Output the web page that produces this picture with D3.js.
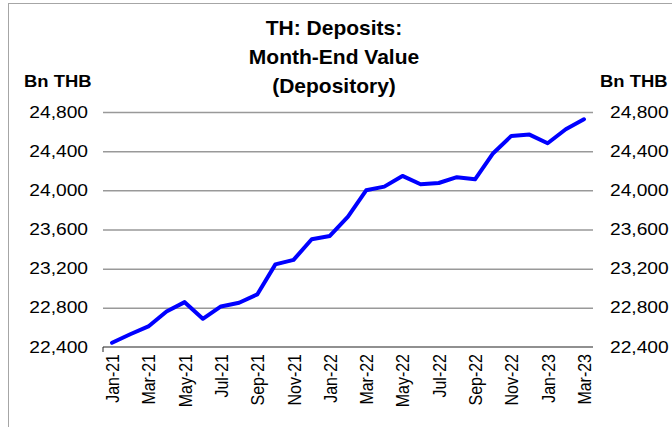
<!DOCTYPE html>
<html>
<head>
<meta charset="utf-8">
<script src="https://cdn.jsdelivr.net/npm/d3@7"></script>
<style>
  body { margin: 0; background: #fff; }
  svg { display: block; font-family: "Liberation Sans", Arial, sans-serif; }
</style>
</head>
<body>
<svg id="chart"></svg>
<script>
const months = ["Jan-21", "Feb-21", "Mar-21", "Apr-21", "May-21", "Jun-21", "Jul-21", "Aug-21", "Sep-21",
  "Oct-21", "Nov-21", "Dec-21", "Jan-22", "Feb-22", "Mar-22", "Apr-22", "May-22", "Jun-22", "Jul-22",
  "Aug-22", "Sep-22", "Oct-22", "Nov-22", "Dec-22", "Jan-23", "Feb-23", "Mar-23"];

const deposits = [22443, 22530, 22610, 22763, 22858, 22688, 22814, 22852, 22937,
  23244, 23290, 23500, 23534, 23731, 24000, 24038, 24147, 24062, 24075,
  24134, 24113, 24379, 24556, 24569, 24481, 24624, 24726];

const xTickLabels = ["Jan-21", "Mar-21", "May-21", "Jul-21", "Sep-21", "Nov-21", "Jan-22",
  "Mar-22", "May-22", "Jul-22", "Sep-22", "Nov-22", "Jan-23", "Mar-23"];
const yTicks = [22400, 22800, 23200, 23600, 24000, 24400, 24800];

const titleLines = ["TH: Deposits:", "Month-End Value", "(Depository)"];
const unitLabel = "Bn THB";

const width = 672;
const height = 427;
const margin = { top: 112, right: 79, bottom: 80, left: 103 };
const plotW = width - margin.left - margin.right;
const plotH = height - margin.top - margin.bottom;

// the source picture has its small labels a bit wider than plain Arial
function widen(sel, k) {
  sel.each(function () {
    d3.select(this)
      .attr("textLength", this.getComputedTextLength() * k)
      .attr("lengthAdjust", "spacingAndGlyphs");
  });
}

const svg = d3.select("#chart").attr("width", width).attr("height", height);

// outer frame (only top & left edges visible in the picture)
svg.append("rect")
  .attr("x", 8.5).attr("y", 3.5)
  .attr("width", 700).attr("height", 450)
  .attr("fill", "none")
  .attr("stroke", "#a6a6a6")
  .attr("stroke-width", 1);

const g = svg.append("g").attr("transform", `translate(${margin.left},${margin.top})`);

const x = d3.scalePoint().domain(months).range([0, plotW]).padding(0.5);
const y = d3.scaleLinear().domain([22400, 24800]).range([plotH, 0]);

// gridlines
g.append("g")
  .call(d3.axisLeft(y).tickValues(yTicks.slice(1)).tickSize(-plotW).tickFormat(""))
  .call(s => s.select(".domain").remove())
  .selectAll("line")
  .attr("stroke", "#999")
  .attr("stroke-width", 1.5);

// left axis labels
g.append("g")
  .call(d3.axisLeft(y).tickValues(yTicks).tickSize(0).tickPadding(15).tickFormat(d3.format(",")))
  .call(s => s.select(".domain").remove())
  .selectAll("text")
  .style("font-size", "16px")
  .attr("fill", "#000")
  .call(widen, 1.2);

// right axis labels
g.append("g")
  .attr("transform", `translate(${plotW},0)`)
  .call(d3.axisRight(y).tickValues(yTicks).tickSize(0).tickPadding(17).tickFormat(d3.format(",")))
  .call(s => s.select(".domain").remove())
  .selectAll("text")
  .style("font-size", "16px")
  .attr("fill", "#000")
  .call(widen, 1.2);

// bottom axis
const xAxis = g.append("g")
  .attr("transform", `translate(0,${plotH})`)
  .call(d3.axisBottom(x).tickValues(xTickLabels).tickSize(0).tickSizeOuter(0));
xAxis.select(".domain").attr("d", `M0,0H${plotW}`).attr("stroke", "#222").attr("stroke-width", 1.2);
xAxis.selectAll("text")
  .style("font-size", "16px")
  .attr("fill", "#000")
  .attr("text-anchor", "end")
  .attr("transform", "rotate(-90) scale(1,1.12)")
  .attr("x", -7)
  .attr("y", 0)
  .attr("dy", "0.36em");
xAxis.append("line")
  .attr("x1", 0).attr("x2", 0).attr("y1", 0).attr("y2", 5)
  .attr("stroke", "#222");

// line series
const line = d3.line()
  .x((d, i) => x(months[i]))
  .y(d => y(d));

g.append("path")
  .datum(deposits)
  .attr("fill", "none")
  .attr("stroke", "#0000ff")
  .attr("stroke-width", 4)
  .attr("stroke-linejoin", "round")
  .attr("stroke-linecap", "round")
  .attr("d", line);

// title
svg.append("text")
  .attr("x", 334)
  .attr("y", 35)
  .attr("text-anchor", "middle")
  .style("font-size", "21px")
  .style("font-weight", "bold")
  .selectAll("tspan")
  .data(titleLines)
  .enter()
  .append("tspan")
  .attr("x", 334)
  .attr("dy", (d, i) => i === 0 ? 0 : 29)
  .text(d => d);

// unit labels
svg.append("text")
  .attr("x", 24).attr("y", 87)
  .style("font-size", "16px").style("font-weight", "bold")
  .text(unitLabel)
  .call(widen, 1.15);
svg.append("text")
  .attr("x", 600).attr("y", 87)
  .style("font-size", "16px").style("font-weight", "bold")
  .text(unitLabel)
  .call(widen, 1.15);
</script>
</body>
</html>
